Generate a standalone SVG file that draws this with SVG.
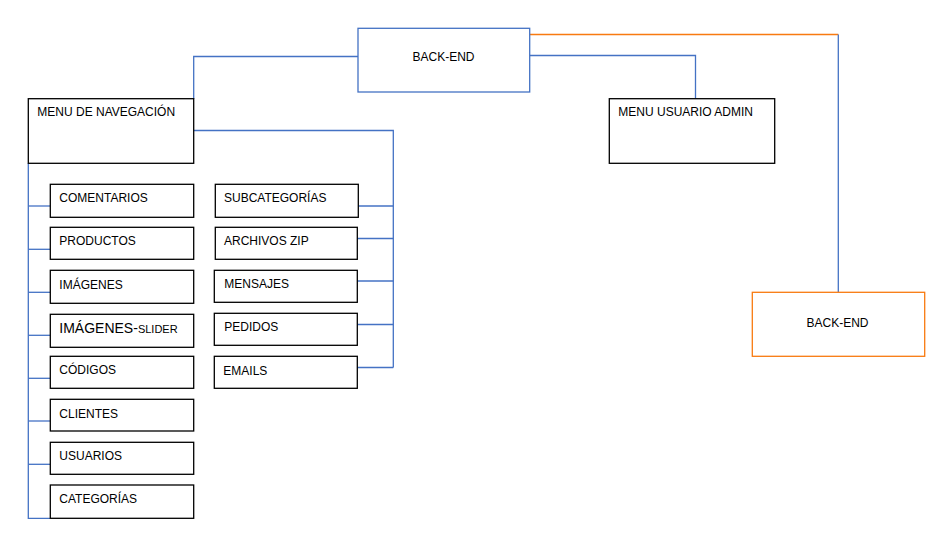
<svg xmlns="http://www.w3.org/2000/svg" width="940" height="546" viewBox="0 0 940 546">
<style>
  .box { fill: #ffffff; stroke: #000000; stroke-width: 1.3; }
  .bbox { fill: #ffffff; stroke: #4472C4; stroke-width: 1.3; }
  .obox { fill: #ffffff; stroke: #F87A10; stroke-width: 1.3; }
  .lbl { font-family: "Liberation Sans", Arial, sans-serif; font-size: 12px; fill: #000000; }
  .mid { text-anchor: middle; }
  .conn { fill: none; stroke: #4472C4; stroke-width: 1.3; }
  .oconn { fill: none; stroke: #F87A10; stroke-width: 1.3; }
</style>
<rect width="940" height="546" fill="#ffffff"/>
<g id="connectors">
  <polyline class="conn" points="358,56.5 193.7,56.5 193.7,99"/>
  <polyline class="conn" points="530,55.5 695.5,55.5 695.5,99"/>
  <polyline class="oconn" points="530,34.5 838.3,34.5"/>
  <polyline class="conn" points="838.3,34.5 838.3,292.3"/>
  <polyline class="conn" points="193.7,130.5 393.3,130.5 393.3,367.5"/>
  <line class="conn" x1="358.3" y1="206" x2="393.3" y2="206"/>
  <line class="conn" x1="357.3" y1="238.5" x2="393.3" y2="238.5"/>
  <line class="conn" x1="357.3" y1="281" x2="393.3" y2="281"/>
  <line class="conn" x1="357.3" y1="324.5" x2="393.3" y2="324.5"/>
  <line class="conn" x1="357.3" y1="367.5" x2="393.3" y2="367.5"/>
  <polyline class="conn" points="28.3,163.3 28.3,518.3 50.3,518.3"/>
  <line class="conn" x1="28.3" y1="206" x2="50.3" y2="206"/>
  <line class="conn" x1="28.3" y1="249.3" x2="50.3" y2="249.3"/>
  <line class="conn" x1="28.3" y1="292.3" x2="50.3" y2="292.3"/>
  <line class="conn" x1="28.3" y1="335.3" x2="50.3" y2="335.3"/>
  <line class="conn" x1="28.3" y1="378.3" x2="50.3" y2="378.3"/>
  <line class="conn" x1="28.3" y1="421" x2="50.3" y2="421"/>
  <line class="conn" x1="28.3" y1="464.3" x2="50.3" y2="464.3"/>
</g>
<g id="backend-top">
  <rect class="bbox" x="358" y="28.3" width="171.7" height="63.7"/>
  <text class="lbl mid" x="443.5" y="61">BACK-END</text>
</g>
<g id="menu-navegacion">
  <rect class="box" x="28.3" y="98.7" width="165.4" height="64.6"/>
  <text class="lbl" x="37.3" y="116.3">MENU DE NAVEGACIÓN</text>
</g>
<g id="menu-usuario-admin">
  <rect class="box" x="609.3" y="98.7" width="165.4" height="64.6"/>
  <text class="lbl" x="618.3" y="116.3">MENU USUARIO ADMIN</text>
</g>
<g id="backend-right">
  <rect class="obox" x="752.3" y="292.3" width="172.4" height="64"/>
  <text class="lbl mid" x="837.5" y="327.3">BACK-END</text>
</g>
<g id="comentarios">
  <rect class="box" x="50.3" y="184.3" width="143.4" height="33"/>
  <text class="lbl" x="59.3" y="201.7">COMENTARIOS</text>
</g>
<g id="productos">
  <rect class="box" x="50.3" y="227.3" width="143.4" height="32"/>
  <text class="lbl" x="59.3" y="244.7">PRODUCTOS</text>
</g>
<g id="imagenes">
  <rect class="box" x="50.3" y="270.3" width="143.4" height="33"/>
  <text class="lbl" x="59.3" y="288.5">IMÁGENES</text>
</g>
<g id="imagenes-slider">
  <rect class="box" x="50.3" y="314.3" width="143.4" height="33"/>
  <text class="lbl" x="59.3" y="332.7"><tspan font-size="14">IMÁGENES-</tspan><tspan font-size="11">SLIDER</tspan></text>
</g>
<g id="codigos">
  <rect class="box" x="50.3" y="356.3" width="143.4" height="32"/>
  <text class="lbl" x="59.3" y="373.7">CÓDIGOS</text>
</g>
<g id="clientes">
  <rect class="box" x="50.3" y="399.3" width="143.4" height="31.7"/>
  <text class="lbl" x="59.3" y="417.5">CLIENTES</text>
</g>
<g id="usuarios">
  <rect class="box" x="50.3" y="442.3" width="143.4" height="32"/>
  <text class="lbl" x="59.3" y="460.3">USUARIOS</text>
</g>
<g id="categorias">
  <rect class="box" x="50.3" y="485" width="143.4" height="33.3"/>
  <text class="lbl" x="59.3" y="503.3">CATEGORÍAS</text>
</g>
<g id="subcategorias">
  <rect class="box" x="215.3" y="184.3" width="143" height="33"/>
  <text class="lbl" x="224" y="201.7">SUBCATEGORÍAS</text>
</g>
<g id="archivos-zip">
  <rect class="box" x="215.3" y="227.3" width="142" height="32"/>
  <text class="lbl" x="224" y="244.7">ARCHIVOS ZIP</text>
</g>
<g id="mensajes">
  <rect class="box" x="214.3" y="270.3" width="143" height="32"/>
  <text class="lbl" x="224.3" y="287.7">MENSAJES</text>
</g>
<g id="pedidos">
  <rect class="box" x="214.3" y="313.3" width="143" height="32"/>
  <text class="lbl" x="224.3" y="331.3">PEDIDOS</text>
</g>
<g id="emails">
  <rect class="box" x="214.3" y="356.3" width="143" height="32"/>
  <text class="lbl" x="223.3" y="375">EMAILS</text>
</g>
</svg>
